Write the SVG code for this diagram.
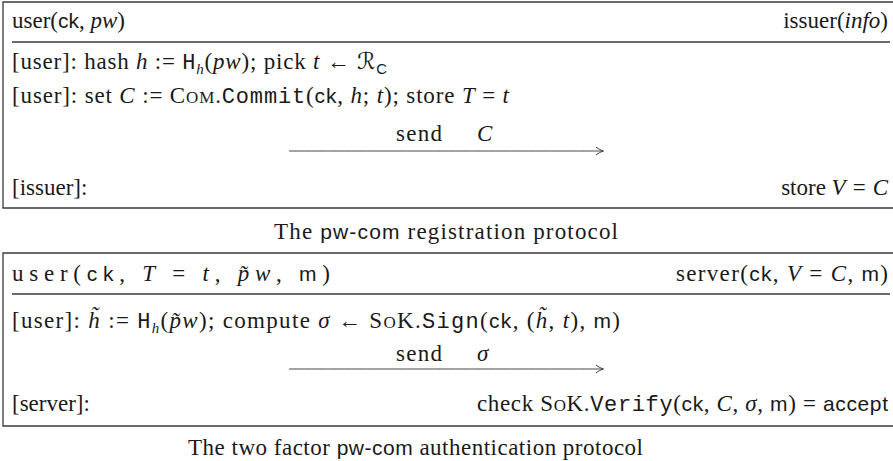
<svg xmlns="http://www.w3.org/2000/svg" width="893" height="461" viewBox="0 0 893 461">
<style>
.t{font-family:"Liberation Serif","DejaVu Serif",serif;font-size:23px;fill:#1a1a1a}
.r{text-anchor:end}
.i{font-style:italic}
.sf{font-family:"Liberation Sans","DejaVu Sans",sans-serif;font-size:21px;font-style:normal}
.tt{font-family:"Liberation Mono","DejaVu Sans Mono",monospace;font-size:22px;font-style:normal}
.s{font-size:17px}
.sub{font-size:15px}
.scr{font-family:"DejaVu Serif","DejaVu Sans",serif;font-style:normal}
.frame{fill:none;stroke:#3a3a3a;stroke-width:1.3}
.sep{stroke:#3a3a3a;stroke-width:1.3}
.arr{stroke:#4a4a4a;stroke-width:1.1;fill:none;marker-end:url(#ah)}
.tick{stroke:#9a9a9a;stroke-width:2;stroke-dasharray:0.8 12.3;fill:none}
</style>
<defs>
<marker id="ah" markerWidth="12" markerHeight="12" refX="8" refY="5" orient="auto" markerUnits="userSpaceOnUse">
<path d="M1,1 C3.5,3 6,4.3 8.5,5 M1,9 C3.5,7 6,5.7 8.5,5" fill="none" stroke="#3a3a3a" stroke-width="1"/>
</marker>
</defs>
<rect width="893" height="461" fill="#fff"/>

<g id="registration">
<path class="frame" d="M893,2 H3 V208 H893"/>
<line class="sep" x1="12" y1="42" x2="890" y2="42"/>
<text class="t" x="12" y="28">user(<tspan class="sf">ck</tspan>, <tspan class="i">pw</tspan>)</text>
<text class="t r" x="888" y="28">issuer(<tspan class="i">info</tspan>)</text>
<text class="t" x="12" y="69" textLength="375" lengthAdjust="spacing">[user]: hash <tspan class="i">h</tspan> := <tspan class="tt">H</tspan><tspan class="i sub" dy="5">h</tspan><tspan dy="-5">(</tspan><tspan class="i">pw</tspan>); pick <tspan class="i">t</tspan> ← <tspan class="scr">ℛ</tspan><tspan class="sf sub" dy="5">C</tspan></text>
<text class="t" x="12" y="103" textLength="497" lengthAdjust="spacing">[user]: set <tspan class="i">C</tspan> := C<tspan class="s">OM</tspan>.<tspan class="tt">Commit</tspan>(<tspan class="sf">ck</tspan>, <tspan class="i">h</tspan>; <tspan class="i">t</tspan>); store <tspan class="i">T</tspan> = <tspan class="i">t</tspan></text>
<text class="t" x="396" y="141" textLength="46" lengthAdjust="spacing">send</text>
<text class="t i" x="477" y="141">C</text>
<text class="t" x="12" y="195">[issuer]:</text>
<text class="t r" x="888" y="195">store <tspan class="i">V</tspan><tspan dx="7">=</tspan><tspan class="i" dx="7">C</tspan></text>
</g>
<text id="caption1" class="t" x="274" y="239" textLength="344" lengthAdjust="spacing">The <tspan class="sf">pw-com</tspan> registration protocol</text>

<g id="authentication">
<path class="frame" d="M893,253 H3 V426 H893"/>
<line class="sep" x1="12" y1="294" x2="890" y2="294"/>
<text class="t" x="12" y="281" textLength="318" lengthAdjust="spacing">user(<tspan class="sf">ck</tspan>, <tspan class="i">T</tspan> = <tspan class="i">t</tspan>, <tspan class="i">p̃w</tspan>, <tspan class="sf">m</tspan>)</text>
<text class="t" x="676" y="281" textLength="212" lengthAdjust="spacing">server(<tspan class="sf">ck</tspan>, <tspan class="i">V</tspan> = <tspan class="i">C</tspan>, <tspan class="sf">m</tspan>)</text>
<text class="t" x="12" y="328" textLength="608" lengthAdjust="spacing">[user]: <tspan class="i">h̃</tspan> := <tspan class="tt">H</tspan><tspan class="i sub" dy="5">h</tspan><tspan dy="-5">(</tspan><tspan class="i">p̃w</tspan>); compute <tspan class="i">σ</tspan> ← S<tspan class="s">O</tspan>K.<tspan class="tt">Sign</tspan>(<tspan class="sf">ck</tspan>, (<tspan class="i">h̃</tspan>, <tspan class="i">t</tspan>), <tspan class="sf">m</tspan>)</text>
<text class="t" x="396" y="361" textLength="46" lengthAdjust="spacing">send</text>
<text class="t i" x="477" y="361">σ</text>
<text class="t" x="12" y="411">[server]:</text>
<text class="t" x="477" y="411" textLength="411" lengthAdjust="spacing">check S<tspan class="s">O</tspan>K.<tspan class="tt">Verify</tspan>(<tspan class="sf">ck</tspan>, <tspan class="i">C</tspan>, <tspan class="i">σ</tspan>, <tspan class="sf">m</tspan>) = <tspan class="sf">accept</tspan></text>
</g>
<text id="caption2" class="t" x="188" y="455" textLength="455" lengthAdjust="spacing">The two factor <tspan class="sf">pw-com</tspan> authentication protocol</text>

<g id="connectors">
<line class="arr" x1="289" y1="151" x2="603" y2="151"/>
<line class="tick" x1="295" y1="151" x2="596" y2="151"/>
<line class="arr" x1="289" y1="369" x2="603" y2="369"/>
<line class="tick" x1="295" y1="369" x2="596" y2="369"/>
</g>
</svg>
